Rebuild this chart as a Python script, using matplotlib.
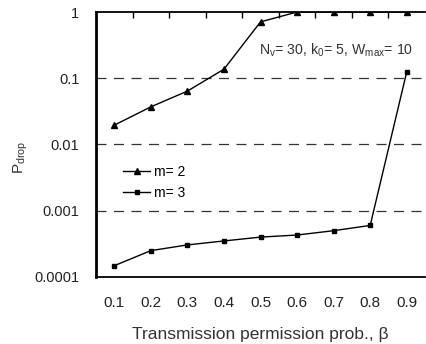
#!/usr/bin/env python

#Imports
import numpy as np
import matplotlib
matplotlib.use("Agg")
import matplotlib.pyplot as plt
from matplotlib.ticker import FixedLocator, NullLocator

plt.rcParams['font.family'] = ['Liberation Sans', 'DejaVu Sans']
plt.rcParams['mathtext.default'] = 'regular'

#Data
beta = ["0.1", "0.2", "0.3", "0.4", "0.5", "0.6", "0.7", "0.8", "0.9"]
p_m2 = [0.0196, 0.037, 0.064, 0.137, 0.71, 1.0, 1.0, 1.0, 1.0]
p_m3 = [0.000148, 0.00025, 0.000305, 0.00035, 0.0004, 0.00043, 0.0005, 0.0006, 0.125]
y_ticks = [0.0001, 0.001, 0.01, 0.1, 1]
y_labels = ["0.0001", "0.001", "0.01", "0.1", "1"]

#Plot
fig = plt.figure(figsize=(4.26, 3.44), dpi=100)
ax = fig.add_axes([0.2254, 0.1948, 0.7723, 0.7703])

x = np.arange(len(beta))
ax.plot(x, p_m2, color='black', lw=1, marker='^', ms=5, label='m= 2')
ax.plot(x, p_m3, color='black', lw=1, marker='s', ms=3.5, label='m= 3')

ax.set_yscale('log')
ax.set_ylim(0.0001, 1)
ax.set_xlim(-0.5, len(beta) - 0.5)

for v in [0.1, 0.01, 0.001]:
    ax.axhline(v, color='#333333', lw=0.9, ls=(0, (8, 6)), zorder=0)

ax.yaxis.set_major_locator(FixedLocator(y_ticks))
ax.yaxis.set_minor_locator(NullLocator())
ax.set_yticklabels(y_labels)
ax.tick_params(axis='y', length=0, pad=12, labelsize=10.5, colors='#222222')

ax.set_xticks(x)
ax.set_xticklabels(beta)
ax.set_xticks(np.arange(0.5, len(beta) - 1, 1.0), minor=True)
ax.tick_params(axis='x', which='major', length=0, pad=14, labelsize=11, colors='#222222')
ax.tick_params(axis='x', which='minor', top=True, bottom=False, direction='in', length=4, width=1)

ax.spines['right'].set_visible(False)
ax.spines['left'].set_linewidth(2)
ax.spines['top'].set_linewidth(1.3)
ax.spines['bottom'].set_linewidth(1.3)

ax.text(0.495, 0.84, r"N$_v$= 30, k$_0$= 5, W$_{max}$= 10", transform=ax.transAxes,
        fontsize=10.2, color='#333333')

ax.legend(loc='upper left', bbox_to_anchor=(0.045, 0.47), frameon=False, fontsize=10,
          handlelength=1.9, handletextpad=0.3, labelspacing=0.5)

ax.set_ylabel(r"P$_{drop}$", fontsize=11, color='#333333')
ax.yaxis.set_label_coords(-0.2, 0.45)
ax.set_xlabel(u"Transmission permission prob., \u03b2", fontsize=12.5, color='#333333', labelpad=12)

fig.savefig("out.png", dpi=100)
